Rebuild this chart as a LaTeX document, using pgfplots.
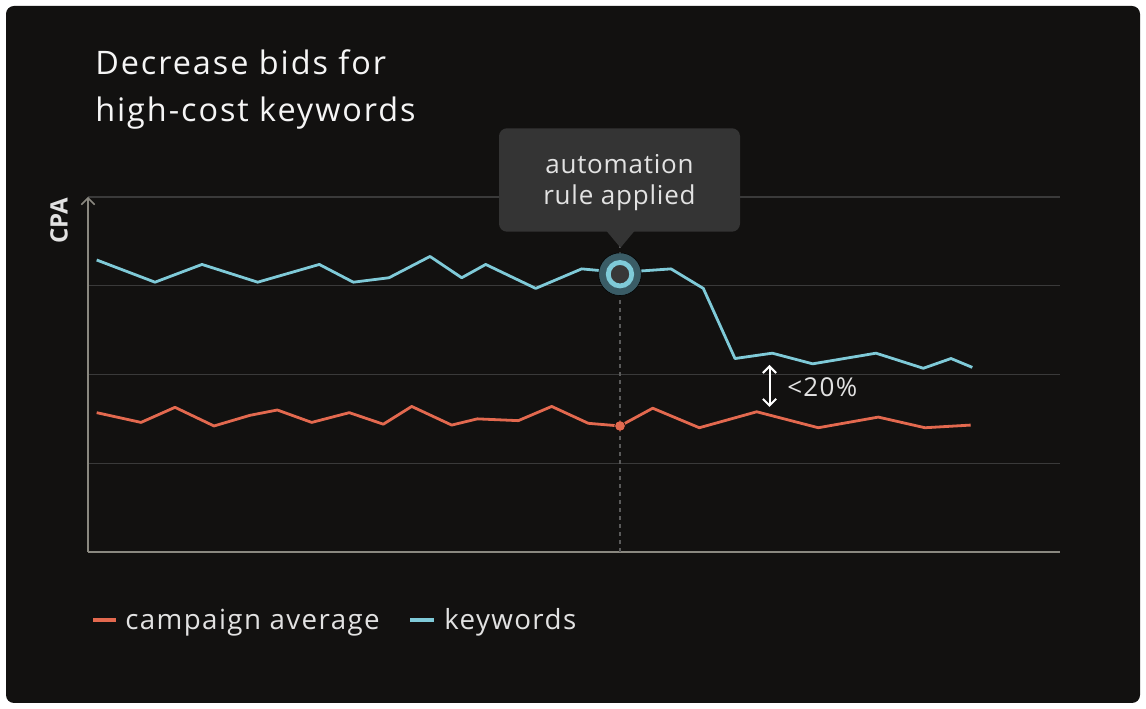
\documentclass[border=0pt]{standalone}
\usepackage{pgfplots}
\pgfplotsset{compat=1.18}
\usetikzlibrary{arrows.meta}
\usepackage{fontspec}
\setmainfont{Open Sans}
\newfontfamily\tfont[LetterSpace=6]{Open Sans}
\newfontfamily\lfont[LetterSpace=5]{Open Sans}
\newfontfamily\ttfont[LetterSpace=3]{Open Sans}
\definecolor{bg}{HTML}{121110}
\definecolor{titlec}{HTML}{F5F5F5}
\definecolor{textc}{HTML}{E2E2E2}
\definecolor{gridc}{HTML}{3A3A3A}
\definecolor{axisc}{HTML}{8A8880}
\definecolor{cyanc}{HTML}{7FCAD8}
\definecolor{orangec}{HTML}{E3694F}
\definecolor{halo}{HTML}{3A5C66}
\definecolor{tipc}{HTML}{343434}
\definecolor{ringfill}{HTML}{383838}
\definecolor{dashc}{HTML}{5A5A5A}
\begin{document}
\begin{tikzpicture}[x=0.75pt,y=0.75pt]
\fill[white] (0,0) rectangle (1146,709);
\fill[bg, rounded corners=6pt] (6,6) rectangle (1140,703);
\node[anchor=base west, inner sep=0, text=titlec, font=\tfont\fontsize{24.3pt}{29pt}\selectfont] at (95,634) {Decrease bids for};
\node[anchor=base west, inner sep=0, text=titlec, font=\tfont\fontsize{24.3pt}{29pt}\selectfont] at (95,587) {high-cost keywords};
\node[rotate=90, inner sep=0, text=textc, font=\bfseries\fontsize{18pt}{22pt}\selectfont] at (59,488) {CPA};
\begin{axis}[at={(66pt,117.75pt)}, anchor=south west, scale only axis,
  width=729pt, height=266.25pt,
  xmin=88, xmax=1060, ymin=0, ymax=4, enlargelimits=false,
  axis x line*=bottom, axis y line*=left,
  x axis line style={-, axisc, line width=1.1pt},
  y axis line style={-{Straight Barb[length=5pt,width=10pt]}, axisc, line width=1.1pt},
  xtick=\empty, ytick={1,2,3,4}, yticklabels={}, major tick length=0pt,
  ymajorgrids, grid style={gridc, line width=1.1pt},
  clip=false]
\addplot[dashc, line width=1.1pt, dash pattern=on 3pt off 3pt] coordinates {(620,0) (620,3.7)};
\addplot[orangec, line width=2.1pt, line join=round] coordinates {
(96.7,1.57) (141,1.46) (175,1.63) (214,1.42) (250,1.54) (277.3,1.60) (311.7,1.46) (349.3,1.57) (383.3,1.44) (411.7,1.64) (451.7,1.43) (477.3,1.50) (518.3,1.48) (551.7,1.64) (588.3,1.45) (620,1.42) (652.7,1.62) (699.3,1.40) (756.7,1.58) (818.3,1.40) (878.3,1.52) (925,1.40) (970.7,1.43)};
\addplot[cyanc, line width=2.1pt, line join=round] coordinates {
(96.7,3.29) (155,3.04) (202,3.24) (257.7,3.04) (319.3,3.24) (353.3,3.04) (389,3.09) (430,3.33) (461.7,3.09) (485.7,3.24) (535.7,2.97) (581.7,3.19) (620,3.15) (671,3.19) (703.3,2.97) (735,2.18) (772.3,2.24) (812.7,2.12) (876,2.24) (923.3,2.07) (951,2.18) (972.3,2.08)};
\addplot[only marks, mark=*, mark size=4pt, mark options={fill=orangec, draw=none}] coordinates {(620,1.42)};
\addplot[only marks, mark=*, mark size=16pt, mark options={fill=halo, draw=none}] coordinates {(620,3.13)};
\addplot[only marks, mark=*, mark size=8.8pt, mark options={fill=ringfill, draw=cyanc, line width=3.6pt}] coordinates {(620,3.13)};
\end{axis}
\fill[tipc, rounded corners=6pt] (499,477.3) rectangle (740,580.7);
\fill[tipc] (606.7,477.8) -- (634.3,477.8) -- (620.5,461.3) -- cycle;
\node[anchor=base, inner sep=0, text=textc, font=\ttfont\fontsize{19.5pt}{24pt}\selectfont] at (619.5,535) {automation};
\node[anchor=base, inner sep=0, text=textc, font=\ttfont\fontsize{19.5pt}{24pt}\selectfont] at (619.5,504) {rule applied};
\draw[white, line width=1.5pt, {Straight Barb[length=5pt,width=10pt]}-{Straight Barb[length=5pt,width=10pt]}] (769.5,302) -- (769.5,344);
\node[anchor=base west, inner sep=0, text=textc, font=\lfont\fontsize{19.5pt}{24pt}\selectfont] at (787,312) {<20\%};
\draw[orangec, line width=3pt] (93,89) -- (116,89);
\node[anchor=base west, inner sep=0, text=textc, font=\lfont\fontsize{20.8pt}{24pt}\selectfont] at (125,79) {campaign average};
\draw[cyanc, line width=3pt] (410,89) -- (434,89);
\node[anchor=base west, inner sep=0, text=textc, font=\lfont\fontsize{20.8pt}{24pt}\selectfont] at (444,79) {keywords};
\end{tikzpicture}
\end{document}
